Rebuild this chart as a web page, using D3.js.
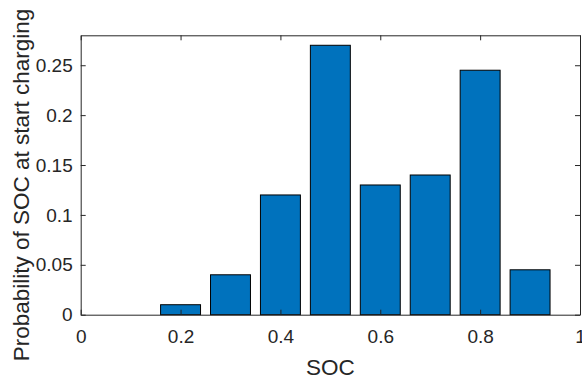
<!DOCTYPE html>
<html>
<head>
<meta charset="utf-8">
<script src="https://cdn.jsdelivr.net/npm/d3@7"></script>
<style>
  body { margin: 0; background: #fff; }
  text { font-family: "Liberation Sans", Arial, sans-serif; fill: #262626; }
</style>
</head>
<body>
<svg id="chart" width="582" height="380"></svg>
<script>
// bar centres and heights
var soc = [0.1, 0.2, 0.3, 0.4, 0.5, 0.6, 0.7, 0.8, 0.9];
var prob = [0, 0.01, 0.04, 0.12, 0.27, 0.13, 0.14, 0.245, 0.045];
var xTicks = [0, 0.2, 0.4, 0.6, 0.8, 1];
var yTicks = [0, 0.05, 0.1, 0.15, 0.2, 0.25];

var svg = d3.select("#chart");
var mLeft = 80.7, mRight = 580, mTop = 35.3, mBottom = 314.7;

var x = d3.scaleLinear().domain([0, 1]).range([mLeft, mRight]);
var y = d3.scaleLinear().domain([0, 0.28]).range([mBottom, mTop]);
var barW = x(0.08) - x(0);

// bars
svg.append("g").selectAll("rect")
    .data(soc.map(function(d, i) { return {s: d, p: prob[i]}; }).filter(function(d) { return d.p > 0; }))
  .enter().append("rect")
    .attr("x", function(d) { return x(d.s) - barW / 2; })
    .attr("y", function(d) { return y(d.p); })
    .attr("width", barW)
    .attr("height", function(d) { return y(0) - y(d.p); })
    .attr("fill", "#0072BD")
    .attr("stroke", "#000")
    .attr("stroke-width", 1);

// axes, ticks pointing inward on all four sides
var axCol = "#262626";
function styleAxis(g) {
  g.selectAll("path").attr("stroke", axCol);
  g.selectAll("line").attr("stroke", axCol);
  g.selectAll("text").attr("fill", axCol).style("font-size", "19px")
    .style("font-family", "Liberation Sans, Arial, sans-serif");
}

svg.append("g").attr("transform", "translate(0," + mBottom + ")")
  .call(d3.axisBottom(x).tickValues(xTicks).tickSizeInner(-5).tickSizeOuter(0).tickPadding(15)
    .tickFormat(d3.format("~g")))
  .call(styleAxis);

svg.append("g").attr("transform", "translate(0," + mTop + ")")
  .call(d3.axisTop(x).tickValues(xTicks).tickSizeInner(-5).tickSizeOuter(0).tickFormat(""))
  .call(styleAxis);

svg.append("g").attr("transform", "translate(" + mLeft + ",0)")
  .call(d3.axisLeft(y).tickValues(yTicks).tickSizeInner(-5).tickSizeOuter(0).tickPadding(8)
    .tickFormat(d3.format("~g")))
  .call(styleAxis);

svg.append("g").attr("transform", "translate(" + mRight + ",0)")
  .call(d3.axisRight(y).tickValues(yTicks).tickSizeInner(-5).tickSizeOuter(0).tickFormat(""))
  .call(styleAxis);

// labels
svg.append("text")
    .attr("x", (mLeft + mRight) / 2)
    .attr("y", 375)
    .attr("text-anchor", "middle")
    .style("font-size", "22.5px")
    .text("SOC");

svg.append("text")
    .attr("transform", "translate(29,185) rotate(-90)")
    .attr("text-anchor", "middle")
    .style("font-size", "22.5px")
    .text("Probability of SOC at start charging");
</script>
</body>
</html>
